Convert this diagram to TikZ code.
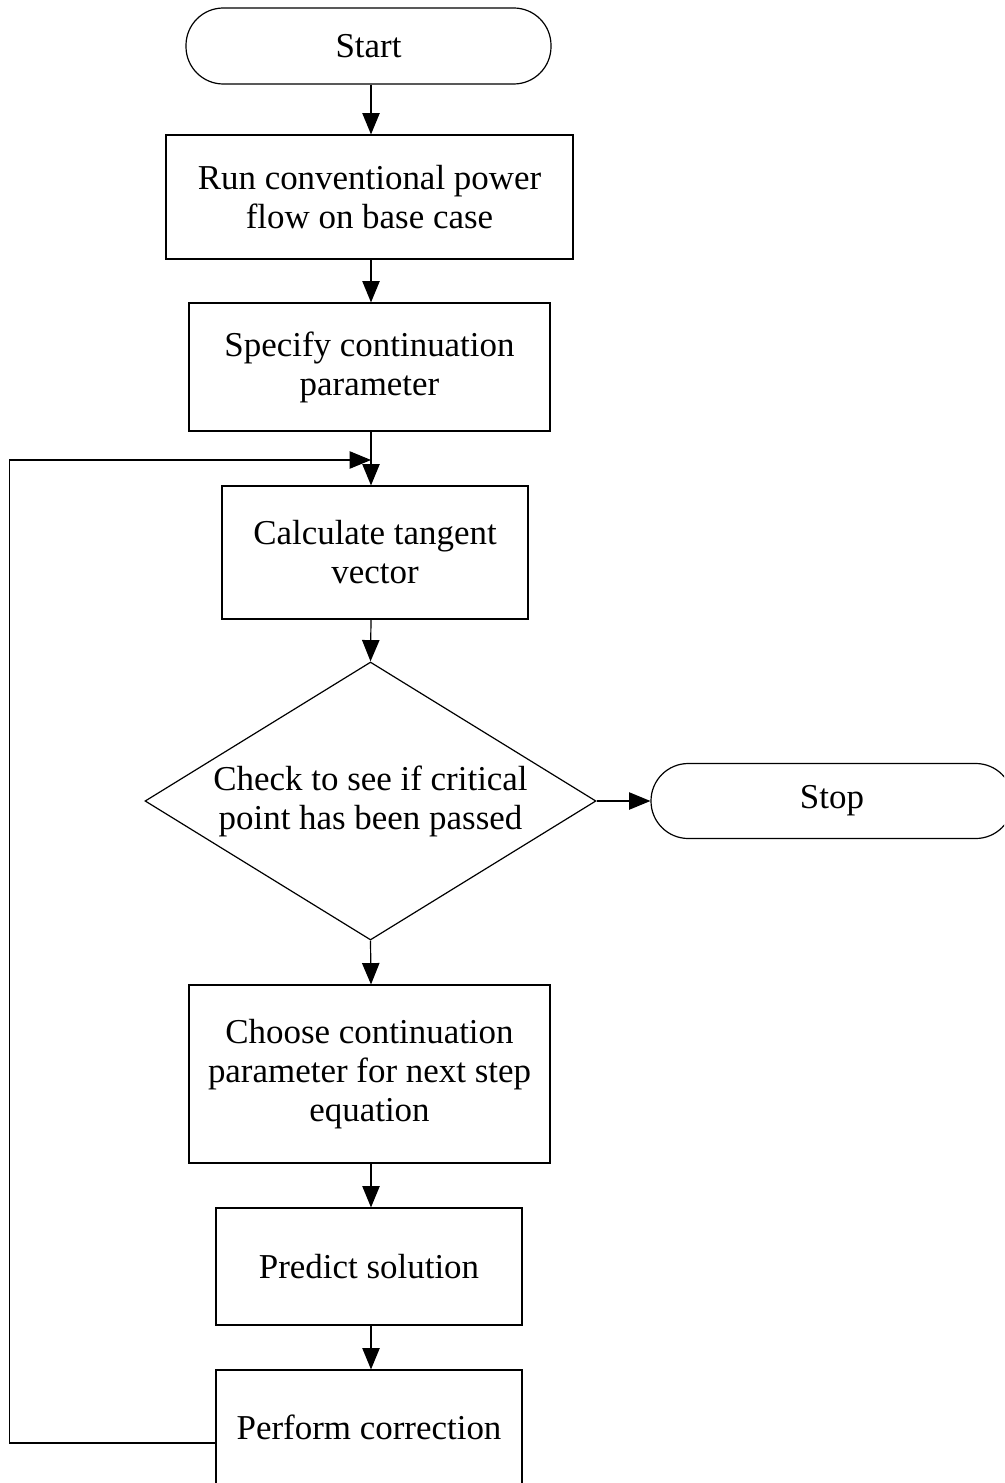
\documentclass[tikz,border=0pt]{standalone}
\usepackage{fontspec}
\setmainfont{Liberation Serif}
\usetikzlibrary{shapes.geometric,arrows.meta}
\begin{document}
\begin{tikzpicture}[x=0.75pt,y=-0.75pt,
  every node/.style={font=\fontsize{26.2}{29.3}\selectfont, align=center, line width=0.9pt},
  procbox/.style={draw, rectangle, inner sep=0pt},
  termbox/.style={draw, rectangle, rounded corners=28pt, inner sep=0pt},
  decbox/.style={draw, diamond, aspect=1.622, inner sep=0pt},
  arr/.style={line width=0.9pt, -{Triangle[length=16pt,width=13pt]}},
  ln/.style={line width=0.9pt}]
\useasboundingbox (0,0) rectangle (1004,1483);
\clip (0,0) rectangle (1004,1483);
\coordinate (ax) at (371,0);
\coordinate (join) at (371,460);
\node[termbox, minimum width=273.75pt, minimum height=57pt] (start) at (368.5,46) {Start};
\node[procbox, minimum width=305.25pt, minimum height=93pt] (b1) at (369.5,197) {Run conventional power\\flow on base case};
\node[procbox, minimum width=270.75pt, minimum height=96pt] (b2) at (369.5,367) {Specify continuation\\parameter};
\node[procbox, minimum width=229.5pt, minimum height=99.75pt] (b3) at (375,552.5) {Calculate tangent\\vector};
\node[decbox, minimum width=338.25pt, minimum height=208.5pt] (dec) at (370.5,801) {Check to see if critical\\point has been passed};
\node[termbox, minimum width=271.5pt, minimum height=56.25pt] (stop) at (832,801) {Stop};
\node[procbox, minimum width=270.75pt, minimum height=133.5pt] (b4) at (369.5,1074) {Choose continuation\\parameter for next step\\equation};
\node[procbox, minimum width=229.5pt, minimum height=87.75pt] (b5) at (369,1266.5) {Predict solution};
\node[procbox, minimum width=229.5pt, minimum height=85.5pt] (b6) at (369,1427) {Perform correction};
\draw[arr] (start.south -| ax) -- (b1.north -| ax);
\draw[arr] (b1.south -| ax) -- (b2.north -| ax);
\draw[arr] (b2.south -| ax) -- (b3.north -| ax);
\draw[arr] (b3.south -| ax) -- (dec.north);
\draw[arr] (dec.east) -- (stop.west);
\draw[arr] (dec.south) -- (b4.north -| ax);
\draw[arr] (b4.south -| ax) -- (b5.north -| ax);
\draw[arr] (b5.south -| ax) -- (b6.north -| ax);
\draw[arr] ([yshift=-12pt]b6.west) -- ++(-206,0) |- (join);
\end{tikzpicture}
\end{document}
